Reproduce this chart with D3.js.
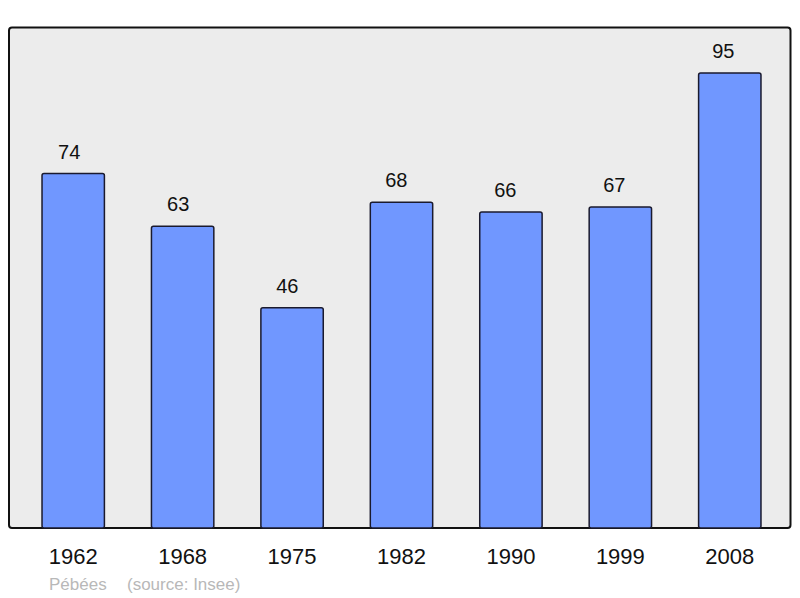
<!DOCTYPE html>
<html>
<head>
<meta charset="utf-8">
<script src="https://cdn.jsdelivr.net/npm/d3@7"></script>
<style>
  body { margin: 0; background: #fff; }
  text { font-family: "Liberation Sans", Arial, sans-serif; }
</style>
</head>
<body>
<div id="container"></div>
<script>
// Population de Pébées
const years = ["1962", "1968", "1975", "1982", "1990", "1999", "2008"];
const population = [74, 63, 46, 68, 66, 67, 95];
const commune = "Pébées";
const source = "(source: Insee)";

const main = (container) => {
  const W = 800, H = 598;

  const svg = d3.select(container)
    .append("svg")
    .attr("width", W)
    .attr("height", H);

  // Cadre
  svg.append("rect")
    .attr("x", 9)
    .attr("y", 27.5)
    .attr("width", 781.5)
    .attr("height", 500.5)
    .attr("rx", 3)
    .attr("fill", "#ececec")
    .attr("stroke", "#111")
    .attr("stroke-width", 2);

  // Échelles
  const x = d3.scaleBand()
    .domain(years)
    .range([18.5, 784.5])
    .paddingInner(0.43)
    .paddingOuter(0.215);

  const y = d3.scaleLinear()
    .domain([0, 95])
    .range([528, 73]);

  const data = years.map((yr, i) => ({ year: yr, value: population[i] }));

  // Barres
  svg.selectAll(".bar")
    .data(data)
    .enter()
    .append("rect")
    .attr("class", "bar")
    .attr("x", d => x(d.year))
    .attr("y", d => y(d.value))
    .attr("width", x.bandwidth())
    .attr("height", d => y(0) - y(d.value))
    .attr("rx", 2)
    .attr("fill", "#7097ff")
    .attr("stroke", "#1a1a2e")
    .attr("stroke-width", 1.5);

  // Valeurs (légèrement décalées à gauche comme dans l'original)
  svg.selectAll(".val")
    .data(data)
    .enter()
    .append("text")
    .attr("class", "val")
    .attr("x", (d, i) => x(d.year) + x.bandwidth() / 2 - 4 - 0.4 * i)
    .attr("y", d => y(d.value) - 15)
    .attr("text-anchor", "middle")
    .style("font-size", "20px")
    .attr("fill", "#111")
    .text(d => d.value);

  // Années
  svg.selectAll(".year")
    .data(data)
    .enter()
    .append("text")
    .attr("class", "year")
    .attr("x", d => x(d.year) + x.bandwidth() / 2)
    .attr("y", 564)
    .attr("text-anchor", "middle")
    .style("font-size", "22px")
    .attr("fill", "#111")
    .text(d => d.year);

  // Source
  svg.append("text")
    .attr("x", 49)
    .attr("y", 590)
    .style("font-size", "17px")
    .attr("fill", "#b8b8b8")
    .text(commune);

  svg.append("text")
    .attr("x", 127)
    .attr("y", 590)
    .style("font-size", "17px")
    .attr("fill", "#b8b8b8")
    .text(source);
};

main(document.getElementById("container"));
</script>
</body>
</html>
